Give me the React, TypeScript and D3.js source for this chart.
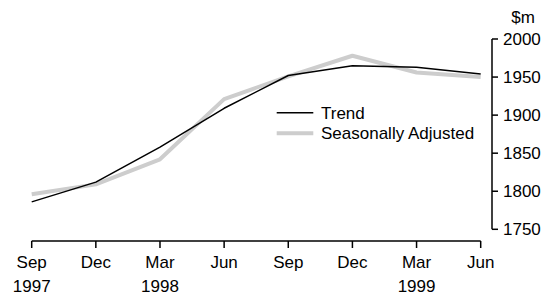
import React from 'react';
import * as d3 from 'd3';

const quarters = ['Sep', 'Dec', 'Mar', 'Jun', 'Sep', 'Dec', 'Mar', 'Jun'];
const years = ['1997', '', '1998', '', '', '', '1999', ''];
const trend = [1786, 1812, 1858, 1909, 1952, 1965, 1963, 1954];
const seasonal = [1796, 1809, 1842, 1921, 1951, 1978, 1956, 1950];
const yTicks = [1750, 1800, 1850, 1900, 1950, 2000];

const W = 554;
const H = 299;
const font = '"Liberation Sans", Arial, sans-serif';

export default function App() {
  const x = d3.scaleLinear().domain([0, quarters.length - 1]).range([31.7, 480.7]);
  const y = d3.scaleLinear().domain([1750, 2000]).range([229.3, 39]);
  const axisX = 492;
  const axisY = 241;

  const line = d3.line<number>()
    .x((d, i) => x(i))
    .y(d => y(d));

  return (
    <svg width={W} height={H} style={{ position: 'absolute', left: 0, top: 0 }}
      fontFamily={font} fontSize={17}>
      <rect width={W} height={H} fill="#fff" />

      {/* series */}
      <path d={line(seasonal) || ''} fill="none" stroke="#cdcdcd" strokeWidth={4} strokeLinejoin="round" />
      <path d={line(trend) || ''} fill="none" stroke="#000" strokeWidth={1.5} strokeLinejoin="round" />

      {/* y axis, on the right */}
      <line x1={axisX} x2={axisX} y1={y(2000)} y2={y(1750)} stroke="#000" strokeWidth={1.5} />
      {yTicks.map(t => (
        <g key={t}>
          <line x1={axisX} x2={axisX + 6} y1={y(t)} y2={y(t)} stroke="#000" strokeWidth={1.5} />
          <text x={503} y={y(t)} dy="0.36em">{t}</text>
        </g>
      ))}
      <text x={523} y={23} textAnchor="middle">$m</text>

      {/* x axis */}
      <line x1={x(0)} x2={x(quarters.length - 1)} y1={axisY} y2={axisY} stroke="#000" strokeWidth={1.5} />
      {quarters.map((q, i) => (
        <g key={i}>
          <line x1={x(i)} x2={x(i)} y1={axisY} y2={axisY + 7} stroke="#000" strokeWidth={1.5} />
          <text x={x(i)} y={268} textAnchor="middle">{q}</text>
          {years[i] && <text x={x(i)} y={291.5} textAnchor="middle">{years[i]}</text>}
        </g>
      ))}

      {/* legend */}
      <line x1={276.7} x2={313.3} y1={112.7} y2={112.7} stroke="#000" strokeWidth={1.5} />
      <text x={321} y={112.7} dy="0.36em">Trend</text>
      <line x1={276.7} x2={313.3} y1={133.3} y2={133.3} stroke="#cdcdcd" strokeWidth={4} />
      <text x={321} y={133.3} dy="0.36em">Seasonally Adjusted</text>
    </svg>
  );
}
